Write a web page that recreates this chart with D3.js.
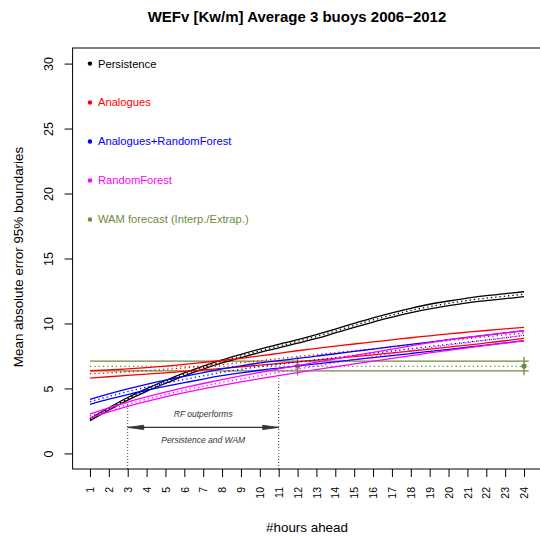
<!DOCTYPE html>
<html>
<head>
<meta charset="utf-8">
<script src="https://cdn.jsdelivr.net/npm/d3@7"></script>
<style>
body { margin: 0; background: #fff; }
svg { display: block; font-family: "Liberation Sans", Arial, sans-serif; }
</style>
</head>
<body>
<svg></svg>
<script>
// hours ahead (x categories)
const hours = [1,2,3,4,5,6,7,8,9,10,11,12,13,14,15,16,17,18,19,20,21,22,23,24];
const yTicks = [0,5,10,15,20,25,30];

// Persistence
const persLow  = [2.52,3.33,4.10,4.78,5.39,5.97,6.48,6.96,7.37,7.77,8.12,8.48,8.85,9.27,9.69,10.11,10.48,10.83,11.12,11.37,11.59,11.76,11.91,12.06];
const persMean = [2.60,3.42,4.20,4.88,5.50,6.08,6.60,7.08,7.50,7.90,8.26,8.62,9.00,9.42,9.85,10.27,10.65,11.00,11.30,11.55,11.77,11.95,12.10,12.25];
const persUp   = [2.68,3.51,4.30,4.98,5.61,6.19,6.72,7.20,7.63,8.03,8.40,8.76,9.15,9.57,10.01,10.43,10.82,11.17,11.48,11.73,11.95,12.14,12.29,12.44];

// Analogues
const anaLow  = [5.80,5.90,6.00,6.10,6.20,6.31,6.42,6.54,6.66,6.79,6.92,7.05,7.18,7.31,7.45,7.59,7.73,7.88,8.03,8.18,8.33,8.50,8.67,8.85];
const anaMean = [6.13,6.20,6.28,6.37,6.47,6.58,6.70,6.84,6.98,7.13,7.29,7.45,7.60,7.75,7.90,8.05,8.20,8.36,8.52,8.68,8.83,8.98,9.12,9.26];
const anaUp   = [6.36,6.42,6.50,6.60,6.72,6.85,7.00,7.15,7.32,7.50,7.70,7.90,8.08,8.25,8.42,8.58,8.74,8.90,9.05,9.20,9.33,9.46,9.58,9.70];

// Analogues+RandomForest
const anrfLow  = [3.77,4.17,4.53,4.86,5.16,5.44,5.72,5.98,6.20,6.40,6.57,6.73,6.89,7.05,7.21,7.37,7.53,7.69,7.85,8.01,8.17,8.33,8.50,8.67];
const anrfMean = [3.98,4.38,4.76,5.10,5.41,5.69,5.97,6.24,6.47,6.68,6.86,7.03,7.20,7.37,7.54,7.71,7.88,8.05,8.22,8.39,8.56,8.73,8.90,9.08];
const anrfUp   = [4.16,4.58,4.97,5.32,5.64,5.93,6.22,6.50,6.74,6.96,7.14,7.31,7.49,7.67,7.85,8.03,8.21,8.39,8.57,8.75,8.93,9.10,9.27,9.44];

// RandomForest
const rfLow  = [2.75,3.20,3.62,4.00,4.35,4.67,4.97,5.24,5.50,5.75,5.99,6.22,6.45,6.67,6.89,7.10,7.31,7.52,7.73,7.93,8.12,8.31,8.49,8.67];
const rfMean = [2.89,3.35,3.78,4.17,4.53,4.86,5.17,5.46,5.73,5.99,6.24,6.49,6.73,6.97,7.21,7.44,7.67,7.90,8.12,8.34,8.53,8.72,8.90,9.10];
const rfUp   = [3.03,3.50,3.95,4.35,4.72,5.06,5.38,5.68,5.96,6.23,6.50,6.76,7.02,7.28,7.53,7.78,8.03,8.28,8.52,8.75,8.93,9.10,9.27,9.44];

// WAM forecast (interpolated / extrapolated)
const wamSpan = [1, 24.25];
const wamLow = 6.35, wamMean = 6.70, wamUp = 7.10;
const wamPointHours = [12, 24];
const wamPointMean = [6.72, 6.72];
const wamPointLow  = [6.00, 6.02];
const wamPointUp   = [7.45, 7.44];

const legendNames = ["Persistence", "Analogues", "Analogues+RandomForest", "RandomForest", "WAM forecast (Interp./Extrap.)"];
const legendY = [30, 27, 24, 21, 18];
const colors = ["#000000", "#FF0000", "#0000FF", "#FF00FF", "#6E8B3D"];

// annotation: RF outperforms persistence and WAM between hours 3 and 11
const annotHours = [3, 11];
const annotTop = [3.9, 6.0];

const size = {w: 540, h: 539};
const plot = {l: 72.6, r: 541.4, t: 48, b: 469};

const svg = d3.select('svg')
    .attr('width', size.w)
    .attr('height', size.h);

const scaleX = d3.scaleLinear().domain([0.08, 24.92]).range([plot.l, plot.r]);
const scaleY = d3.scaleLinear().domain([-1.2, 31.2]).range([plot.b, plot.t]);

const line = d3.line()
    .x((d, i) => scaleX(hours[i]))
    .y(d => scaleY(d))
    .curve(d3.curveMonotoneX);

// WAM horizontal lines first
const wamG = svg.append('g');
[wamUp, wamMean, wamLow].forEach((v, i) => {
    wamG.append('line')
        .attr('x1', scaleX(wamSpan[0])).attr('x2', scaleX(wamSpan[1]))
        .attr('y1', scaleY(v)).attr('y2', scaleY(v))
        .attr('stroke', colors[4])
        .attr('stroke-width', 1.3)
        .attr('stroke-dasharray', i === 1 ? '1.3 3' : null);
});

// the four curve families: low and up solid, mean dotted
const methods = [
    {low: persLow, mean: persMean, up: persUp, color: colors[0]},
    {low: anaLow,  mean: anaMean,  up: anaUp,  color: colors[1]},
    {low: anrfLow, mean: anrfMean, up: anrfUp, color: colors[2]},
    {low: rfLow,   mean: rfMean,   up: rfUp,   color: colors[3]}
];

const curvesG = svg.append('g');
methods.forEach(m => {
    [m.low, m.up].forEach(s => {
        curvesG.append('path')
            .attr('d', line(s))
            .attr('fill', 'none')
            .attr('stroke', m.color)
            .attr('stroke-width', 1.3);
    });
    curvesG.append('path')
        .attr('d', line(m.mean))
        .attr('fill', 'none')
        .attr('stroke', m.color)
        .attr('stroke-width', 1.3)
        .attr('stroke-dasharray', '1.3 3');
});

// WAM points with 95% bars
wamPointHours.forEach((h, i) => {
    wamG.append('line')
        .attr('x1', scaleX(h)).attr('x2', scaleX(h))
        .attr('y1', scaleY(wamPointLow[i])).attr('y2', scaleY(wamPointUp[i]))
        .attr('stroke', colors[4]).attr('stroke-width', 1.3);
    wamG.append('circle')
        .attr('cx', scaleX(h)).attr('cy', scaleY(wamPointMean[i]))
        .attr('r', 2.6).attr('fill', colors[4]);
});

// annotation
const annG = svg.append('g');
annotHours.forEach((h, i) => {
    annG.append('line')
        .attr('x1', scaleX(h)).attr('x2', scaleX(h))
        .attr('y1', plot.b).attr('y2', scaleY(annotTop[i]))
        .attr('stroke', '#444').attr('stroke-width', 1)
        .attr('stroke-dasharray', '1 2');
});
const ax0 = scaleX(annotHours[0]), ax1 = scaleX(annotHours[1]), ay = scaleY(2);
annG.append('line')
    .attr('x1', ax0).attr('x2', ax1).attr('y1', ay).attr('y2', ay)
    .attr('stroke', '#333').attr('stroke-width', 1.2);
annG.append('path')
    .attr('d', `M${ax0},${ay}L${ax0 + 16},${ay - 2.2}L${ax0 + 16},${ay + 2.2}Z M${ax1},${ay}L${ax1 - 16},${ay - 2.2}L${ax1 - 16},${ay + 2.2}Z`)
    .attr('fill', '#333').attr('stroke', '#333').attr('stroke-width', 0.8);
const midX = scaleX((annotHours[0] + annotHours[1]) / 2);
annG.append('text').attr('x', midX).attr('y', scaleY(3)).attr('dy', '0.35em')
    .attr('text-anchor', 'middle').attr('font-style', 'italic').attr('font-size', 8.5)
    .attr('fill', '#333').text('RF outperforms');
annG.append('text').attr('x', midX).attr('y', scaleY(1)).attr('dy', '0.35em')
    .attr('text-anchor', 'middle').attr('font-style', 'italic').attr('font-size', 8.5)
    .attr('fill', '#333').text('Persistence and WAM');

// legend
const legG = svg.append('g');
legendNames.forEach((name, i) => {
    legG.append('circle')
        .attr('cx', scaleX(1)).attr('cy', scaleY(legendY[i]))
        .attr('r', 2.2).attr('fill', colors[i]);
    legG.append('text')
        .attr('x', scaleX(1) + 8).attr('y', scaleY(legendY[i])).attr('dy', '0.35em')
        .attr('font-size', 11.2).attr('fill', colors[i])
        .text(name);
});

// box
svg.append('rect')
    .attr('x', plot.l).attr('y', plot.t)
    .attr('width', plot.r - plot.l).attr('height', plot.b - plot.t)
    .attr('fill', 'none').attr('stroke', '#000').attr('stroke-width', 1);

// axes
const xAxis = svg.append('g')
    .attr('transform', `translate(0, ${plot.b})`)
    .call(d3.axisBottom(scaleX).tickValues(hours).tickSize(8).tickFormat(d3.format('d')));
xAxis.select('.domain').remove();
xAxis.selectAll('text')
    .attr('transform', 'rotate(-90)')
    .attr('x', -18).attr('y', 0).attr('dy', '0.35em')
    .attr('text-anchor', 'end')
    .attr('font-size', 10.5).attr('font-family', null).attr('fill', '#000');

const yAxis = svg.append('g')
    .attr('transform', `translate(${plot.l}, 0)`)
    .call(d3.axisLeft(scaleY).tickValues(yTicks).tickSize(8));
yAxis.select('.domain').remove();
yAxis.selectAll('text')
    .attr('transform', 'translate(-24,0) rotate(-90)')
    .attr('x', 0).attr('y', 0).attr('dy', '0.35em')
    .attr('text-anchor', 'middle')
    .attr('font-size', 12.5).attr('font-family', null).attr('fill', '#000');

// titles
svg.append('text')
    .attr('x', 297).attr('y', 21.5)
    .attr('text-anchor', 'middle').attr('font-weight', 'bold').attr('font-size', 15)
    .text('WEFv [Kw/m] Average 3 buoys 2006\u22122012');
svg.append('text')
    .attr('x', 307).attr('y', 532)
    .attr('text-anchor', 'middle').attr('font-size', 13.4)
    .text('#hours ahead');
svg.append('text')
    .attr('transform', `translate(18, 257) rotate(-90)`)
    .attr('dy', '0.35em')
    .attr('text-anchor', 'middle').attr('font-size', 13.4)
    .text('Mean absolute error 95% boundaries');
</script>
</body>
</html>
